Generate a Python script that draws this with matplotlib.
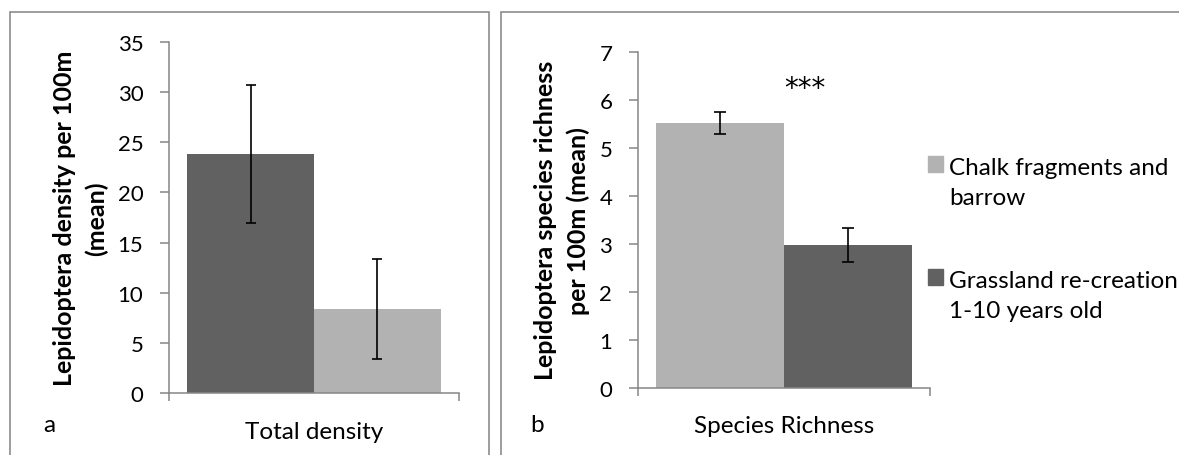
import matplotlib.pyplot as plt
from matplotlib.patches import Rectangle

plt.rcParams['font.family'] = ['Lato', 'DejaVu Sans']

# data
groups = ['Chalk fragments and\nbarrow', 'Grassland re-creation\n1-10 years old']
colours = ['#b2b2b2', '#616161']

density_mean = [8.4, 23.8]     # chalk, grassland
density_err = [4.98, 6.87]
richness_mean = [5.51, 2.97]
richness_err = [0.23, 0.35]

density_label = 'Lepidoptera density per 100m\n(mean)'
richness_label = 'Lepidoptera species richness\nper 100m (mean)'

W, H = 1179, 456
fig = plt.figure(figsize=(W / 100, H / 100), dpi=100)


def px_box(l, t, r, b):
    return [l / W, 1 - b / H, (r - l) / W, (b - t) / H]


def style_axes(ax, ymax, step, category):
    ax.set_xlim(0, 1)
    ax.set_ylim(0, ymax)
    ax.set_yticks(range(0, ymax + 1, step))
    for s in ['top', 'right']:
        ax.spines[s].set_visible(False)
    for s in ['left', 'bottom']:
        ax.spines[s].set_color('#868686')
        ax.spines[s].set_linewidth(1.1)
    ax.tick_params(axis='y', length=6.5, width=1.1, color='#868686', pad=12, labelsize=16)
    ax.set_xticks([0, 1])
    ax.set_xticklabels([])
    ax.tick_params(axis='x', which='major', length=6, width=1.1, color='#868686')
    ax.set_xticks([0.5], [category], minor=True)
    ax.tick_params(axis='x', which='minor', length=0, pad=20, labelsize=17.5)


w = 0.437

# panel a
ax1 = fig.add_axes(px_box(169, 42.7, 459, 394.3))
ax1.bar(0.5 - w / 2, density_mean[1], w, yerr=density_err[1], color=colours[1],
        capsize=3.9, error_kw=dict(elinewidth=1.2, capthick=1.2))
ax1.bar(0.5 + w / 2, density_mean[0], w, yerr=density_err[0], color=colours[0],
        capsize=3.9, error_kw=dict(elinewidth=1.2, capthick=1.2))
style_axes(ax1, 35, 5, 'Total density')
ax1.set_ylabel(density_label, fontsize=18, fontweight='bold', labelpad=7, linespacing=1.45)

# panel b
ax2 = fig.add_axes(px_box(638, 52.7, 930, 388.7))
for i in range(2):
    ax2.bar(0.5 + (i - 0.5) * w, richness_mean[i], w, yerr=richness_err[i], color=colours[i],
            capsize=4.4, error_kw=dict(elinewidth=1.2, capthick=1.2))
style_axes(ax2, 7, 1, 'Species Richness')
ax2.set_ylabel(richness_label, fontsize=18, fontweight='bold', labelpad=7, linespacing=1.45)
ax2.text(0.57, 6.25, '***', ha='center', va='center', fontsize=20, family='DejaVu Sans')

# panel frames and letters
fig.add_artist(Rectangle((10 / W, -0.05), 479 / W, 1.05 - 13 / H, transform=fig.transFigure,
                         fill=False, edgecolor='#8c8c8c', linewidth=1.2))
fig.add_artist(Rectangle((501 / W, -0.05), 700 / W, 1.05 - 13 / H, transform=fig.transFigure,
                         fill=False, edgecolor='#8c8c8c', linewidth=1.2))
fig.text(43 / W, 1 - 432 / H, 'a', fontsize=17.5, va='baseline')
fig.text(530 / W, 1 - 432 / H, 'b', fontsize=17.5, va='baseline')

# legend
for i, (lab, y) in enumerate(zip(groups, [173, 286])):
    fig.add_artist(Rectangle((928 / W, 1 - y / H), 15 / W, 16 / H, transform=fig.transFigure,
                             color=colours[i]))
    fig.text(949 / W, 1 - (y + 32) / H, lab, fontsize=17.5, va='baseline', linespacing=1.55)

fig.savefig('out.png', dpi=100)
